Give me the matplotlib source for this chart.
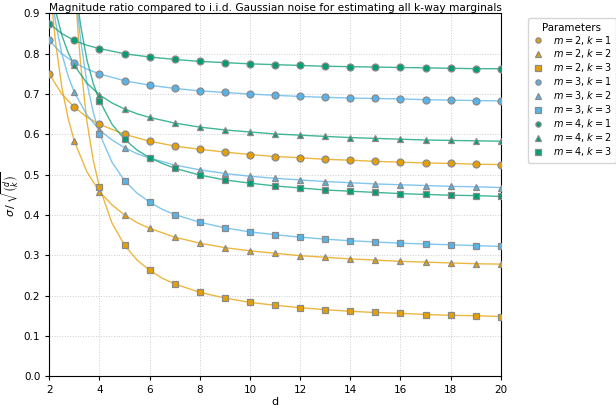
#!/usr/bin/env python

import numpy as np
import matplotlib.pyplot as plt

# marker positions (integer d) for each k
d_k1 = list(range(2, 21))
d_k2 = list(range(3, 21))
d_k3 = list(range(4, 21))

# values read at the markers
m2_k1 = [0.750, 0.667, 0.625, 0.600, 0.583, 0.571, 0.563, 0.556, 0.550, 0.545,
         0.542, 0.538, 0.536, 0.533, 0.531, 0.529, 0.528, 0.526, 0.525]
m3_k1 = [0.833, 0.778, 0.750, 0.733, 0.722, 0.714, 0.708, 0.704, 0.700, 0.697,
         0.694, 0.692, 0.690, 0.689, 0.688, 0.686, 0.685, 0.684, 0.683]
m4_k1 = [0.875, 0.833, 0.813, 0.800, 0.792, 0.786, 0.781, 0.778, 0.775, 0.773,
         0.771, 0.769, 0.768, 0.767, 0.766, 0.765, 0.764, 0.763, 0.763]

m2_k2 = [0.583, 0.458, 0.400, 0.367, 0.345, 0.330, 0.319, 0.311, 0.305, 0.299,
         0.295, 0.291, 0.288, 0.285, 0.283, 0.281, 0.279, 0.278]
m3_k2 = [0.704, 0.611, 0.567, 0.541, 0.524, 0.512, 0.503, 0.496, 0.491, 0.487,
         0.483, 0.480, 0.477, 0.475, 0.473, 0.471, 0.470, 0.468]
m4_k2 = [0.771, 0.698, 0.663, 0.642, 0.628, 0.618, 0.611, 0.606, 0.601, 0.598,
         0.595, 0.592, 0.590, 0.588, 0.586, 0.585, 0.584, 0.583]

m2_k3 = [0.469, 0.325, 0.263, 0.229, 0.208, 0.194, 0.183, 0.176, 0.170, 0.165,
         0.161, 0.158, 0.156, 0.153, 0.151, 0.150, 0.148]
m3_k3 = [0.602, 0.485, 0.432, 0.401, 0.382, 0.368, 0.358, 0.351, 0.345, 0.340,
         0.336, 0.333, 0.330, 0.328, 0.326, 0.324, 0.322]
m4_k3 = [0.684, 0.588, 0.542, 0.516, 0.499, 0.487, 0.479, 0.472, 0.467, 0.462,
         0.459, 0.456, 0.453, 0.451, 0.449, 0.448, 0.446]

# extra points (steep parts)
cd_k1 = [2.5, 3.5]
c_m2_k1 = [0.700, 0.643]
c_m3_k1 = [0.800, 0.762]
c_m4_k1 = [0.850, 0.821]

cd_k2 = [2.1, 2.25, 2.5, 2.75, 3.5, 4.5, 5.5]
c_m2_k2 = [0.921, 0.828, 0.717, 0.640, 0.507, 0.425, 0.381]
c_m3_k2 = [0.945, 0.879, 0.800, 0.745, 0.648, 0.586, 0.552]
c_m4_k2 = [0.958, 0.907, 0.846, 0.803, 0.727, 0.678, 0.651]

cd_k3 = [3.05, 3.15, 3.25, 3.5, 3.75, 4.5, 5.5, 6.5]
c_m2_k3 = [0.945, 0.851, 0.774, 0.632, 0.537, 0.380, 0.288, 0.243]
c_m3_k3 = [0.960, 0.891, 0.834, 0.728, 0.655, 0.531, 0.454, 0.414]
c_m4_k3 = [0.969, 0.915, 0.870, 0.785, 0.727, 0.625, 0.561, 0.528]

ms = [2, 3, 4]
ks = [1, 2, 3]
colors = {2: '#E69F00', 3: '#56B4E9', 4: '#009E73'}
markers = {1: 'o', 2: '^', 3: 's'}


def main():
    marks = {
        (2, 1): (d_k1, m2_k1, cd_k1, c_m2_k1),
        (2, 2): (d_k2, m2_k2, cd_k2, c_m2_k2),
        (2, 3): (d_k3, m2_k3, cd_k3, c_m2_k3),
        (3, 1): (d_k1, m3_k1, cd_k1, c_m3_k1),
        (3, 2): (d_k2, m3_k2, cd_k2, c_m3_k2),
        (3, 3): (d_k3, m3_k3, cd_k3, c_m3_k3),
        (4, 1): (d_k1, m4_k1, cd_k1, c_m4_k1),
        (4, 2): (d_k2, m4_k2, cd_k2, c_m4_k2),
        (4, 3): (d_k3, m4_k3, cd_k3, c_m4_k3),
    }

    fig, ax = plt.subplots(figsize=(6.16, 4.08), dpi=100)
    fig.subplots_adjust(left=0.08, right=0.813, top=0.967, bottom=0.078)

    for m in ms:
        for k in ks:
            d, y, cd, cy = marks[(m, k)]
            # line through markers and curve points
            xs = np.array(list(d) + cd)
            ys = np.array(list(y) + cy)
            order = np.argsort(xs)
            ax.plot(xs[order], ys[order], color=colors[m], lw=1.0, alpha=0.75,
                    zorder=2)
            ax.plot(d, y, linestyle='none', marker=markers[k], ms=5,
                    mfc=colors[m], mec='#8a8a8a', mew=0.9, zorder=3,
                    label=r'$m = %d$, $k = %d$' % (m, k))

    ax.set_xlim(2, 20)
    ax.set_ylim(0, 0.9)
    ax.set_xticks(range(2, 21, 2))
    ax.set_yticks(np.arange(0, 0.91, 0.1))
    ax.tick_params(labelsize=7.5, length=3)
    ax.grid(True, linestyle=':', color='#cccccc', lw=0.7, zorder=0)
    ax.set_axisbelow(True)

    ax.set_title('Magnitude ratio compared to i.i.d. Gaussian noise for '
                 'estimating all k-way marginals', fontsize=7.7, pad=2)
    ax.set_xlabel('d', fontsize=8, labelpad=1)
    ax.set_ylabel(r'$\sigma\, /\, \sqrt{\binom{d}{k}}$', fontsize=8, labelpad=2)

    leg = ax.legend(title='Parameters', loc='upper left',
                    bbox_to_anchor=(1.06, 0.987), borderaxespad=0,
                    fontsize=7, title_fontsize=7.4,
                    markerscale=0.75, handlelength=1.2, handletextpad=0.9,
                    labelspacing=0.1, borderpad=0.45)
    leg.get_frame().set_edgecolor('#cccccc')

    fig.savefig('out.png', dpi=100)


if __name__ == '__main__':
    main()
